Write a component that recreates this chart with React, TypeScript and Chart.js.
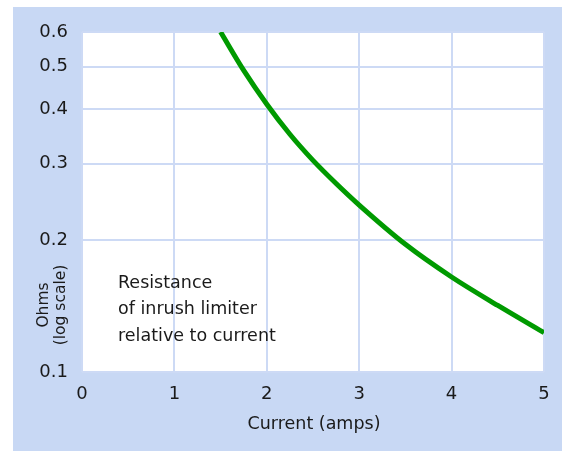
import React, { useEffect, useRef } from "react";
import { Chart, registerables } from "chart.js";

Chart.register(...registerables);

const currentAmps = [1.5, 1.75, 2, 2.25, 2.5, 2.75, 3, 3.5, 4, 4.5, 5];
const resistanceOhms = [0.6, 0.49, 0.41, 0.35, 0.305, 0.27, 0.241, 0.196, 0.165, 0.142, 0.123];
const yTickValues = [0.1, 0.2, 0.3, 0.4, 0.5, 0.6];
const xTickValues = [0, 1, 2, 3, 4, 5];
const annotationLines = ["Resistance", "of inrush limiter", "relative to current"];
const xTitle = "Current (amps)";
const yTitleLines = ["Ohms", "(log scale)"];

const FONT = "'DejaVu Sans', sans-serif";
const PANEL = "#c8d8f4";
const GRID = "#cddaf5";
const TEXT = "#1a1a1a";

const textPlugin = {
  id: "customText",
  afterDraw(chart: any) {
    const ctx = chart.ctx;
    const ca = chart.chartArea;
    ctx.save();
    ctx.fillStyle = TEXT;
    ctx.font = `17.5px ${FONT}`;
    ctx.textAlign = "left";
    ctx.textBaseline = "middle";
    annotationLines.forEach((t, i) => {
      ctx.fillText(t, ca.left + 36, 276 + i * 26.5);
    });
    ctx.textAlign = "center";
    ctx.fillText(xTitle, (ca.left + ca.right) / 2 + 1, 417);
    ctx.translate(0, 298);
    ctx.rotate(-Math.PI / 2);
    ctx.font = `15.5px ${FONT}`;
    ctx.fillText(yTitleLines[0], 0, 31);
    ctx.fillText(yTitleLines[1], 0, 48);
    ctx.restore();
  },
};

export default function App() {
  const ref = useRef<HTMLCanvasElement>(null);
  useEffect(() => {
    if (!ref.current) return;
    const chart = new Chart(ref.current, {
      type: "line",
      data: {
        datasets: [
          {
            data: currentAmps.map((x, i) => ({ x, y: resistanceOhms[i] })),
            borderColor: "#009a00",
            borderWidth: 5,
            pointRadius: 0,
            cubicInterpolationMode: "monotone",
            fill: false,
          },
        ],
      },
      options: {
        responsive: false,
        animation: false,
        layout: { padding: { left: 0, top: 25, right: 18, bottom: 0 } },
        plugins: { legend: { display: false }, tooltip: { enabled: false } },
        scales: {
          x: {
            type: "linear",
            min: 0,
            max: 5,
            afterBuildTicks: (s: any) => {
              s.ticks = xTickValues.map((v) => ({ value: v }));
            },
            afterFit: (s: any) => {
              s.height = 79;
            },
            grid: { color: GRID, lineWidth: 2, drawTicks: false },
            border: { display: false },
            ticks: {
              color: TEXT,
              font: { family: FONT, size: 18 },
              padding: 12,
              maxRotation: 0,
              callback: (v: any) => String(v),
            },
          },
          y: {
            type: "logarithmic",
            min: 0.1,
            max: 0.6,
            afterBuildTicks: (s: any) => {
              s.ticks = yTickValues.map((v) => ({ value: v }));
            },
            afterFit: (s: any) => {
              s.width = 69;
            },
            grid: { color: GRID, lineWidth: 2, drawTicks: false },
            border: { display: false },
            ticks: {
              color: TEXT,
              font: { family: FONT, size: 18 },
              padding: 14,
              callback: (v: any) => Number(v).toFixed(1),
            },
          },
        },
      },
      plugins: [
        {
          id: "bg",
          beforeDraw(chart: any) {
            const { ctx, chartArea: ca } = chart;
            ctx.save();
            ctx.fillStyle = "#ffffff";
            ctx.fillRect(ca.left, ca.top, ca.right - ca.left, ca.bottom - ca.top);
            ctx.restore();
          },
        },
        textPlugin,
      ],
    } as any);
    return () => chart.destroy();
  }, []);
  return (
    <div
      style={{
        position: "absolute",
        left: 13,
        top: 7,
        width: 549,
        height: 444,
        background: PANEL,
      }}
    >
      <canvas ref={ref} width={549} height={444} style={{ display: "block" }} />
    </div>
  );
}
